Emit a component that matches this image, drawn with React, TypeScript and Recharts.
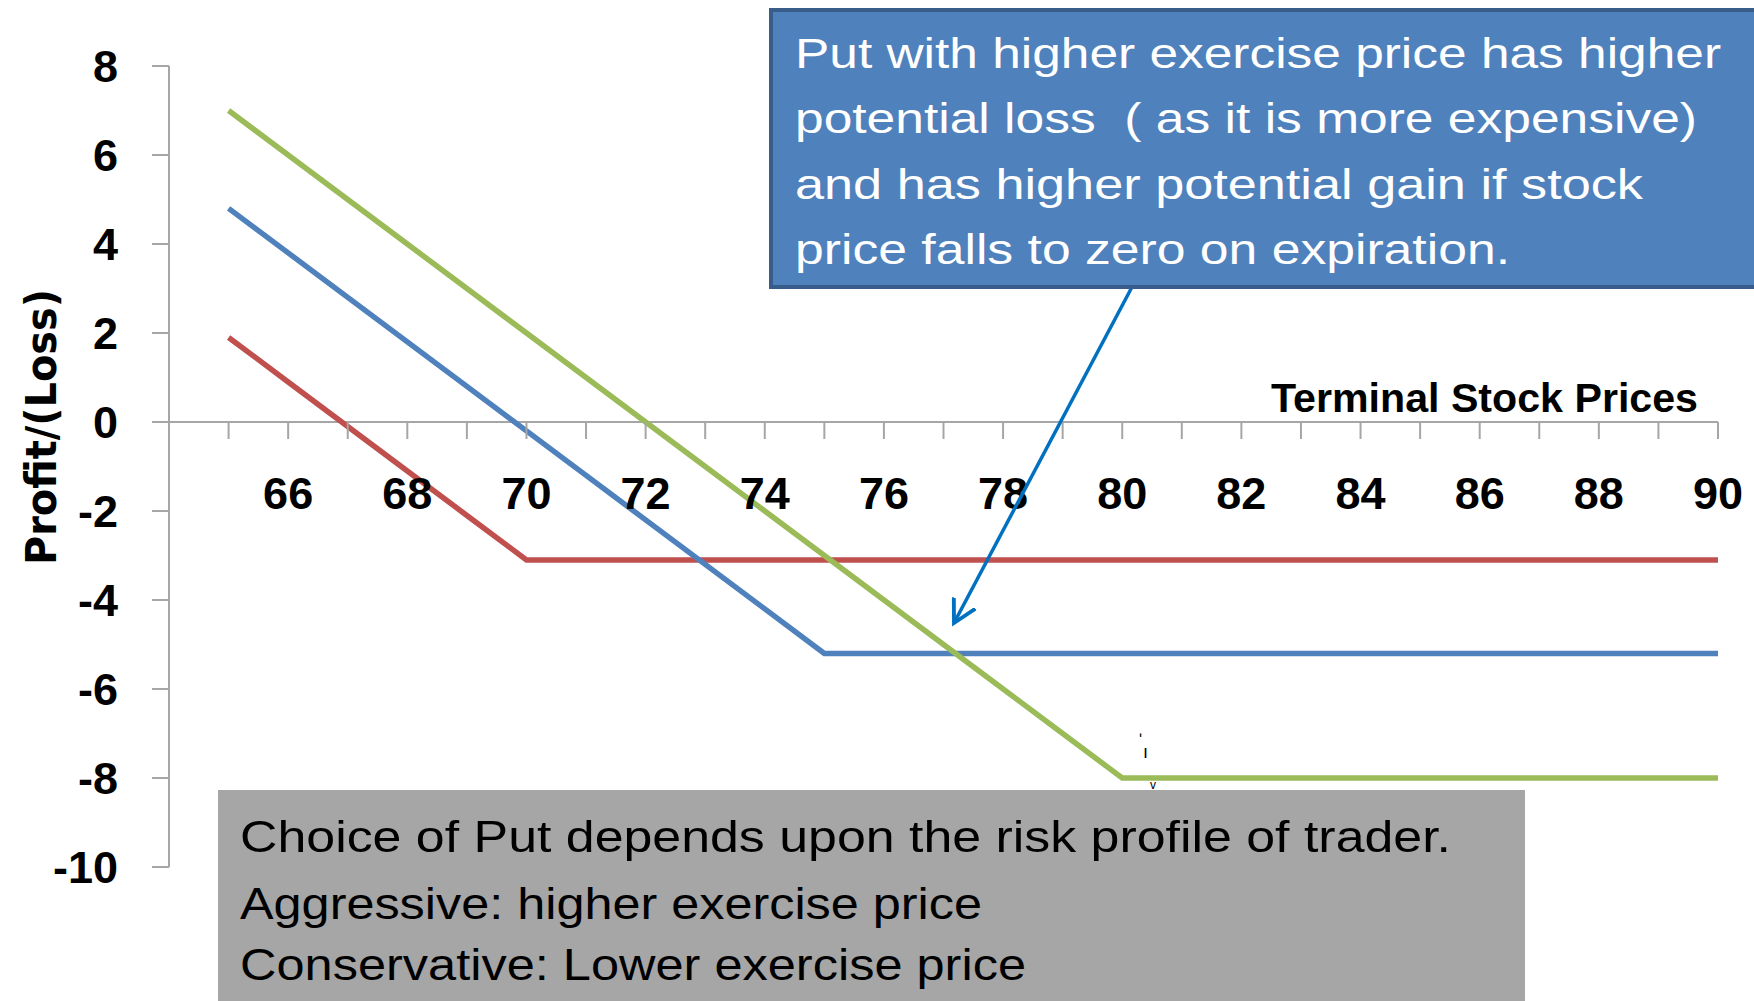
import React from 'react';
import { LineChart, Line, XAxis, YAxis, ReferenceLine } from 'recharts';

// Terminal stock prices (x) and profit/(loss) of three long puts
const prices = [65, 66, 67, 68, 69, 70, 71, 72, 73, 74, 75, 76, 77, 78, 79, 80, 81, 82, 83, 84, 85, 86, 87, 88, 89, 90];
// strike 70, premium 3.1
const putStrike70 = [1.9, 0.9, -0.1, -1.1, -2.1, -3.1, -3.1, -3.1, -3.1, -3.1, -3.1, -3.1, -3.1, -3.1, -3.1, -3.1, -3.1, -3.1, -3.1, -3.1, -3.1, -3.1, -3.1, -3.1, -3.1, -3.1];
// strike 75, premium 5.2
const putStrike75 = [4.8, 3.8, 2.8, 1.8, 0.8, -0.2, -1.2, -2.2, -3.2, -4.2, -5.2, -5.2, -5.2, -5.2, -5.2, -5.2, -5.2, -5.2, -5.2, -5.2, -5.2, -5.2, -5.2, -5.2, -5.2, -5.2];
// strike 80, premium 8
const putStrike80 = [7, 6, 5, 4, 3, 2, 1, 0, -1, -2, -3, -4, -5, -6, -7, -8, -8, -8, -8, -8, -8, -8, -8, -8, -8, -8];

const yTicks = [-10, -8, -6, -4, -2, 0, 2, 4, 6, 8];
const xLabels = [66, 68, 70, 72, 74, 76, 78, 80, 82, 84, 86, 88, 90];

const calloutLines = [
  'Put with higher exercise price has higher',
  'potential loss  ( as it is more expensive)',
  'and has higher potential gain if stock',
  'price falls to zero on expiration.',
];
const noteLines = [
  'Choice of Put depends upon the risk profile of trader.',
  'Aggressive: higher exercise price',
  'Conservative: Lower exercise price',
];

const data = prices.map((p, i) => ({
  price: p,
  k70: putStrike70[i],
  k75: putStrike75[i],
  k80: putStrike80[i],
}));

const W = 1754;
const H = 1001;
const TOP = 66;
const BOTTOM = 134;
const X_AXIS_H = 30;
const PLOT_H = H - TOP - BOTTOM;
const Y_MIN = -10;
const Y_MAX = 8;
// the category axis crosses the value axis at zero
const ZERO_Y = TOP + (Y_MAX / (Y_MAX - Y_MIN)) * PLOT_H;

const AXIS = '#a6a6a6';
const SANS = '"Liberation Sans", Arial, sans-serif';

const XTick = (props: any) => {
  const { x, payload } = props;
  const v = payload.value as number;
  return (
    <g>
      <line x1={x} x2={x} y1={ZERO_Y} y2={ZERO_Y + 17} stroke={AXIS} strokeWidth={2} />
      {xLabels.includes(v) && (
        <text x={x} y={ZERO_Y + 87} textAnchor="middle" fontFamily={SANS} fontWeight={700} fontSize={45} fill="#000">
          {v}
        </text>
      )}
    </g>
  );
};

const calloutWidths = [926, 902, 848, 715];
const calloutBase = [68, 133, 199, 264];
const noteWidths = [1211, 742, 786];
const noteBase = [852, 919, 980];

export default function App() {
  return (
    <div style={{ position: 'absolute', left: 0, top: 0, width: W, height: H, background: '#fff' }}>
      <LineChart
        width={W}
        height={H}
        data={data}
        margin={{ top: TOP, right: 36, left: 0, bottom: BOTTOM - X_AXIS_H }}
      >
        <XAxis
          dataKey="price"
          type="number"
          domain={[64, 90]}
          ticks={prices}
          interval={0}
          height={X_AXIS_H}
          axisLine={false}
          tickLine={false}
          tick={(p: any) => <XTick {...p} />}
        />
        <YAxis
          type="number"
          domain={[Y_MIN, Y_MAX]}
          ticks={yTicks}
          interval={0}
          width={169}
          tickSize={17}
          tickMargin={34}
          axisLine={{ stroke: AXIS, strokeWidth: 2 }}
          tickLine={{ stroke: AXIS, strokeWidth: 2 }}
          tick={{ fontFamily: SANS, fontWeight: 700, fontSize: 45, fill: '#000' }}
        />
        <ReferenceLine y={0} stroke={AXIS} strokeWidth={2} />
        <Line type="linear" dataKey="k70" stroke="#c0504d" strokeWidth={5.5} dot={false} isAnimationActive={false} />
        <Line type="linear" dataKey="k75" stroke="#4f81bd" strokeWidth={5.5} dot={false} isAnimationActive={false} />
        <Line type="linear" dataKey="k80" stroke="#9bbb59" strokeWidth={5.5} dot={false} isAnimationActive={false} />
      </LineChart>

      <svg width={W} height={H} style={{ position: 'absolute', left: 0, top: 0, pointerEvents: 'none' }}>
        <defs>
          <marker id="arrowHead" markerWidth="8" markerHeight="8" refX="6.5" refY="4" orient="auto" markerUnits="strokeWidth">
            <path d="M0,0.5 L6.5,4 L0,7.5" fill="none" stroke="#0070c0" strokeWidth={1.1} />
          </marker>
        </defs>

        {/* axis titles */}
        <text
          transform="translate(56, 427) rotate(-90)"
          textAnchor="middle"
          fontFamily='"DejaVu Sans", sans-serif'
          fontWeight={700}
          fontSize={42}
          textLength={276}
          lengthAdjust="spacingAndGlyphs"
          fill="#000"
        >
          Profit/(Loss)
        </text>
        <text
          x={1271}
          y={412}
          fontFamily={SANS}
          fontWeight={700}
          fontSize={41}
          textLength={427}
          lengthAdjust="spacingAndGlyphs"
          fill="#000"
        >
          Terminal Stock Prices
        </text>

        {/* callout box with arrow */}
        <line x1={1132} y1={287} x2={954} y2={623} stroke="#0070c0" strokeWidth={3.5} markerEnd="url(#arrowHead)" />
        <rect x={771} y={10} width={1000} height={277} fill="#4f81bd" stroke="#385d8a" strokeWidth={4} />
        {calloutLines.map((t, i) => (
          <text
            key={t}
            x={795}
            y={calloutBase[i]}
            fontFamily={SANS}
            fontSize={42}
            textLength={calloutWidths[i]}
            lengthAdjust="spacingAndGlyphs"
            fill="#fff"
            style={{ whiteSpace: 'pre' }}
          >
            {t}
          </text>
        ))}

        {/* note box */}
        <rect x={218} y={790} width={1307} height={220} fill="#a6a6a6" />
        {noteLines.map((t, i) => (
          <text
            key={t}
            x={240}
            y={noteBase[i]}
            fontFamily={SANS}
            fontSize={45}
            textLength={noteWidths[i]}
            lengthAdjust="spacingAndGlyphs"
            fill="#000"
          >
            {t}
          </text>
        ))}

        {/* stray marks */}
        <text x={1139} y={745} fontFamily={SANS} fontSize={16} fill="#000">ʹ</text>
        <text x={1143} y={758} fontFamily={SANS} fontSize={18} fill="#000">ı</text>
        <text x={1150} y={789} fontFamily={SANS} fontSize={12} fill="#000">v</text>
      </svg>
    </div>
  );
}
